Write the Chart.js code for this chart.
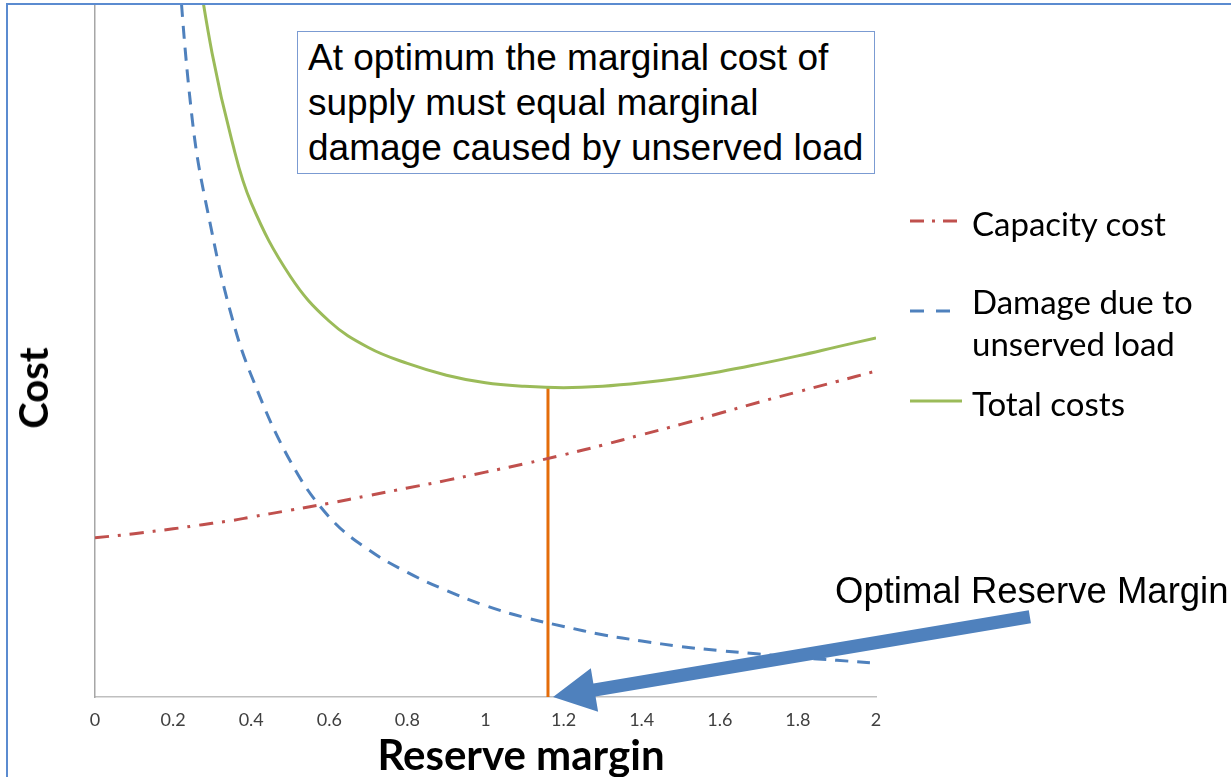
<!DOCTYPE html>
<html>
<head>
<meta charset="utf-8">
<script src="https://cdn.jsdelivr.net/npm/chart.js@4.4.1/dist/chart.umd.min.js"></script>
<style>
  html, body { margin: 0; padding: 0; background: #fff; }
  #wrap { position: relative; width: 1231px; height: 777px; overflow: hidden; }
  #frame { position: absolute; left: 6px; top: 3px; right: -10px; bottom: -10px;
           border-left: 2px solid #5b8bd0; border-top: 2px solid #5b8bd0; pointer-events: none; }
  canvas { position: absolute; left: 0; top: 0; }
  .note { position: absolute; left: 297px; top: 31px; width: 566px; height: 138px;
          border: 1.5px solid #7b9bd2; padding: 3px 0 0 10px; background: #fff;
          font-family: "Liberation Sans", Arial, sans-serif; font-size: 37px; line-height: 45px; color: #000; white-space: nowrap; }
  .legend { position: absolute; left: 908px; font-family: Lato, "Open Sans", sans-serif; font-size: 33px; color: #000; }
  .legend .item { position: absolute; left: 0; white-space: nowrap; }
  .legend svg { position: absolute; left: 0; }
  .legend span { position: absolute; left: 64px; line-height: 42px; }
  .arrowLabel { position: absolute; left: 835px; top: 570px; white-space: nowrap;
                font-family: "Liberation Sans", Arial, sans-serif; font-size: 36.5px; color: #000; }
  .ytitle { position: absolute; left: 33px; top: 388px; transform: translate(-50%, -50%) rotate(-90deg);
            font-family: Lato, "Open Sans", sans-serif; font-weight: bold; font-size: 40px; color: #000; }
  .xtitle { position: absolute; left: 521px; top: 754px; transform: translate(-50%, -50%); white-space: nowrap;
            font-family: Lato, "Open Sans", sans-serif; font-weight: bold; font-size: 42px; color: #000; }
</style>
</head>
<body>
<div id="wrap">
  <canvas id="costChart" width="1231" height="777"></canvas>
  <div id="frame"></div>
  <div class="note">At optimum the marginal cost of<br>supply must equal marginal<br>damage caused by unserved load</div>
  <div class="legend" style="top:202px">
    <div class="item" style="top:0">
      <svg width="56" height="42"><line x1="2" y1="19" x2="54" y2="19" stroke="#c0504d" stroke-width="3" stroke-dasharray="14 8 3 8"/></svg>
      <span>Capacity cost</span>
    </div>
    <div class="item" style="top:78px">
      <svg width="56" height="60" style="top:10px"><line x1="2" y1="21" x2="54" y2="21" stroke="#4f81bd" stroke-width="3" stroke-dasharray="14 12"/></svg>
      <span>Damage due to<br>unserved load</span>
    </div>
    <div class="item" style="top:180px">
      <svg width="56" height="42"><line x1="2" y1="19" x2="54" y2="19" stroke="#9bbb59" stroke-width="3"/></svg>
      <span>Total costs</span>
    </div>
  </div>
  <div class="arrowLabel">Optimal Reserve Margin</div>
  <div class="ytitle">Cost</div>
  <div class="xtitle">Reserve margin</div>
</div>
<script>
// ---------- DATA ----------
// reserve margin (x) values shared by all curves
const reserveMargin = [0, 0.1, 0.2, 0.25, 0.3, 0.35, 0.4, 0.5, 0.6, 0.7, 0.8, 0.9, 1.0,
                       1.1, 1.2, 1.3, 1.4, 1.5, 1.6, 1.7, 1.8, 1.9, 2.0];

const capacityCost = [23.0, 23.6, 24.3, 24.7, 25.1, 25.5, 26.0, 27.0, 28.0, 29.1, 30.2, 31.3, 32.5,
                      33.7, 35.0, 36.4, 37.9, 39.4, 41.0, 42.6, 44.1, 45.6, 47.1];

const damageCost = [null, null, 116, 83, 67, 55, 46.5, 34.1, 26.0, 21.3, 18.0, 15.4, 13.2,
                    11.5, 10.2, 9.0, 8.1, 7.3, 6.7, 6.2, 5.7, 5.3, 4.9];

const totalCost = [null, null, null, 110, 93, 80.5, 71.4, 60.8, 54.3, 50.5, 48.2, 46.5, 45.4,
                   44.9, 44.7, 44.9, 45.4, 46.1, 47.0, 48.1, 49.3, 50.6, 51.9];

// optimum reserve margin and minimum total cost
const optimumMargin = 1.16;
const optimumCost = 44.7;

// x-axis ticks
const xTicks = [0, 0.2, 0.4, 0.6, 0.8, 1, 1.2, 1.4, 1.6, 1.8, 2];

// arrow pointing at optimum (in data units; tail sits outside plot area)
const arrowTail = { x: 2.394, y: 11.6 };
const arrowHead = { x: 1.173, y: 0 };

function toPoints(ys) {
    return reserveMargin.map((x, i) => ({ x: x, y: ys[i] }));
}

// draws the thick blue arrow using the chart's scales
const arrowPlugin = {
    id: 'arrowPlugin',
    afterDatasetsDraw(chart) {
        const ctx = chart.ctx;
        const xs = chart.scales.x, ys = chart.scales.y;
        const x1 = xs.getPixelForValue(arrowTail.x), y1 = ys.getPixelForValue(arrowTail.y);
        const x2 = xs.getPixelForValue(arrowHead.x), y2 = ys.getPixelForValue(arrowHead.y);
        const ang = Math.atan2(y2 - y1, x2 - x1);
        const headLen = 42, headW = 22, shaft = 6.5;
        const bx = x2 - headLen * Math.cos(ang), by = y2 - headLen * Math.sin(ang);
        const nx = -Math.sin(ang), ny = Math.cos(ang);
        ctx.save();
        ctx.fillStyle = '#4f81bd';
        ctx.beginPath();
        ctx.moveTo(x1 + nx * shaft, y1 + ny * shaft);
        ctx.lineTo(bx + nx * shaft, by + ny * shaft);
        ctx.lineTo(bx + nx * headW, by + ny * headW);
        ctx.lineTo(x2, y2);
        ctx.lineTo(bx - nx * headW, by - ny * headW);
        ctx.lineTo(bx - nx * shaft, by - ny * shaft);
        ctx.lineTo(x1 - nx * shaft, y1 - ny * shaft);
        ctx.closePath();
        ctx.fill();
        ctx.restore();
    }
};

var costCtx = document.getElementById('costChart').getContext('2d');
var costChart = new Chart(costCtx, {
    type: 'line',
    data: {
        datasets: [{
            label: 'Capacity cost',
            data: toPoints(capacityCost),
            borderColor: '#c0504d',
            borderWidth: 3,
            borderDash: [14, 9, 3, 9],
            pointRadius: 0,
            tension: 0.4
        }, {
            label: 'Damage due to unserved load',
            data: toPoints(damageCost),
            borderColor: '#4f81bd',
            borderWidth: 3,
            borderDash: [13, 9],
            pointRadius: 0,
            tension: 0.4
        }, {
            label: 'Total costs',
            data: toPoints(totalCost),
            borderColor: '#9bbb59',
            borderWidth: 3,
            pointRadius: 0,
            tension: 0.4
        }, {
            label: 'Optimum',
            data: [{ x: optimumMargin, y: 0 }, { x: optimumMargin, y: optimumCost }],
            borderColor: '#e46c0a',
            borderWidth: 3,
            pointRadius: 0
        }]
    },
    options: {
        responsive: false,
        animation: false,
        layout: { padding: { left: 95, right: 355, top: 5, bottom: 0 } },
        plugins: {
            legend: { display: false },
            tooltip: { enabled: false }
        },
        scales: {
            x: {
                type: 'linear',
                min: 0,
                max: 2,
                afterBuildTicks: (scale) => { scale.ticks = xTicks.map(v => ({ value: v })); },
                afterFit: (scale) => { scale.height = 80; },
                grid: { display: false, drawTicks: false },
                border: { display: true, color: '#bfbfbf', width: 1.5 },
                ticks: {
                    padding: 12,
                    color: '#404040',
                    font: { family: 'Lato', size: 18 },
                    callback: (value) => String(value)
                }
            },
            y: {
                min: 0,
                max: 100,
                afterFit: (scale) => { scale.width = 0; },
                grid: { display: false, drawTicks: false },
                border: { display: true, color: '#a6a6a6', width: 1.5 },
                ticks: { display: false }
            }
        }
    },
    plugins: [arrowPlugin]
});
</script>
</body>
</html>
